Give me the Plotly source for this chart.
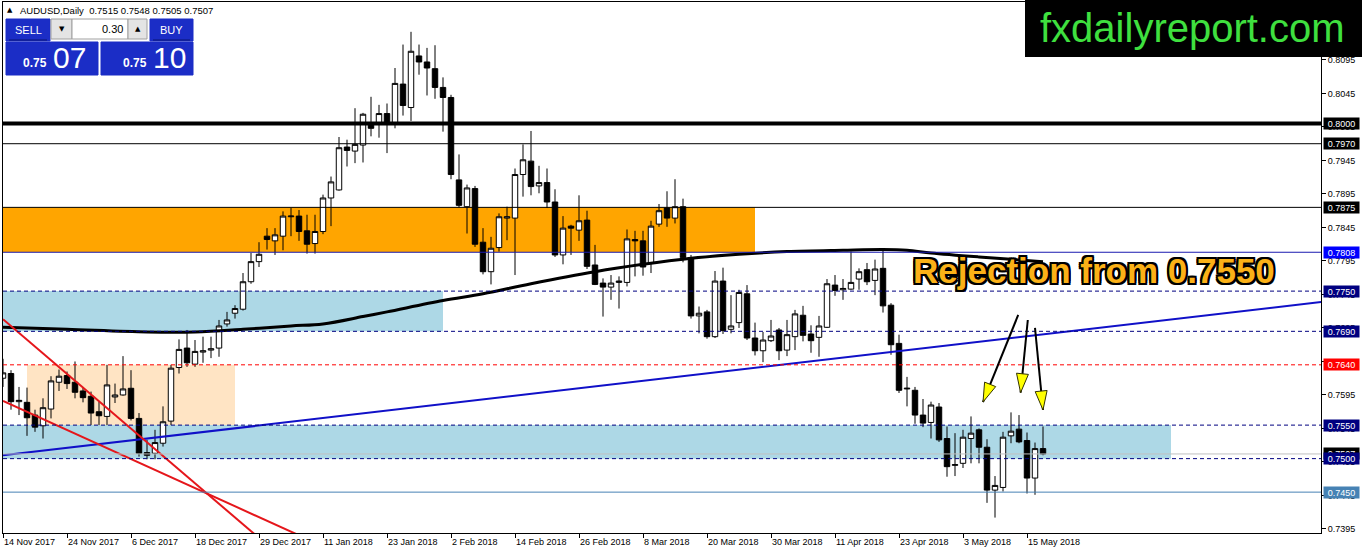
import pandas as pd
import plotly.graph_objects as go

# ---- data ---------------------------------------------------------------
START_DATE = "2017-11-14"
END_DATE = "2018-05-17"
HOLIDAYS = ["2017-12-25", "2018-01-01"]  # no bars on these days

OPEN = [
    0.7620, 0.7627, 0.7585, 0.7584, 0.7565, 0.7549, 0.7574, 0.7614, 0.7624, 0.7614,
    0.7601, 0.7593, 0.7570, 0.7563, 0.7592, 0.7595, 0.7605, 0.7560, 0.7509, 0.7508,
    0.7523, 0.7556, 0.7636, 0.7665, 0.7641, 0.7659, 0.7662, 0.7665, 0.7701, 0.7717,
    0.7723, 0.7764, 0.7794, 0.7832, 0.7825, 0.7832, 0.7861, 0.7862, 0.7840, 0.7821,
    0.7839, 0.7889, 0.7901, 0.7965, 0.7959, 0.7968, 0.8000, 0.8000, 0.8015, 0.8000,
    0.8059, 0.8024, 0.8101, 0.8092, 0.8082, 0.8054, 0.8039, 0.7916, 0.7876, 0.7903,
    0.7823, 0.7779, 0.7815, 0.7859, 0.7859, 0.7924, 0.7944, 0.7907, 0.7912, 0.7883,
    0.7804, 0.7847, 0.7841, 0.7856, 0.7789, 0.7762, 0.7756, 0.7763, 0.7763, 0.7827,
    0.7825, 0.7792, 0.7850, 0.7874, 0.7859, 0.7876, 0.7800, 0.7713, 0.7719, 0.7682,
    0.7765, 0.7693, 0.7703, 0.7746, 0.7680, 0.7661, 0.7676, 0.7692, 0.7662, 0.7682,
    0.7714, 0.7686, 0.7681, 0.7696, 0.7759, 0.7752, 0.7753, 0.7768, 0.7782, 0.7766,
    0.7784, 0.7729, 0.7672, 0.7604, 0.7602, 0.7565, 0.7554, 0.7577, 0.7530, 0.7490,
    0.7493, 0.7530, 0.7543, 0.7517, 0.7453, 0.7457, 0.7534, 0.7544, 0.7527, 0.7471,
    0.7515,
]
HIGH = [
    0.7649, 0.7632, 0.7607, 0.7606, 0.7573, 0.7590, 0.7623, 0.7633, 0.7630, 0.7645,
    0.7607, 0.7600, 0.7585, 0.7640, 0.7612, 0.7653, 0.7632, 0.7568, 0.7528, 0.7543,
    0.7578, 0.7640, 0.7678, 0.7692, 0.7677, 0.7682, 0.7682, 0.7707, 0.7719, 0.7729,
    0.7777, 0.7807, 0.7823, 0.7844, 0.7844, 0.7869, 0.7874, 0.7871, 0.7864, 0.7864,
    0.7894, 0.7921, 0.7980, 0.7976, 0.8023, 0.8016, 0.8040, 0.8028, 0.8030, 0.8083,
    0.8118, 0.8137, 0.8118, 0.8113, 0.8117, 0.8069, 0.8043, 0.7954, 0.7909, 0.7907,
    0.7844, 0.7831, 0.7866, 0.7876, 0.7933, 0.7969, 0.7989, 0.7937, 0.7933, 0.7902,
    0.7862, 0.7849, 0.7893, 0.7870, 0.7819, 0.7769, 0.7774, 0.7772, 0.7842, 0.7840,
    0.7840, 0.7855, 0.7880, 0.7899, 0.7917, 0.7888, 0.7804, 0.7727, 0.7722, 0.7780,
    0.7785, 0.7744, 0.7752, 0.7759, 0.7703, 0.7689, 0.7707, 0.7695, 0.7707, 0.7722,
    0.7728, 0.7699, 0.7713, 0.7768, 0.7774, 0.7768, 0.7809, 0.7784, 0.7792, 0.7797,
    0.7811, 0.7732, 0.7685, 0.7622, 0.7607, 0.7589, 0.7585, 0.7583, 0.7548, 0.7538,
    0.7543, 0.7563, 0.7545, 0.7529, 0.7474, 0.7540, 0.7569, 0.7565, 0.7539, 0.7524,
    0.7548,
]
LOW = [
    0.7607, 0.7573, 0.7565, 0.7534, 0.7540, 0.7530, 0.7560, 0.7601, 0.7604, 0.7590,
    0.7584, 0.7550, 0.7550, 0.7550, 0.7583, 0.7594, 0.7557, 0.7503, 0.7499, 0.7499,
    0.7518, 0.7550, 0.7627, 0.7637, 0.7637, 0.7643, 0.7650, 0.7652, 0.7697, 0.7709,
    0.7721, 0.7761, 0.7786, 0.7812, 0.7804, 0.7811, 0.7832, 0.7825, 0.7806, 0.7806,
    0.7835, 0.7847, 0.7900, 0.7936, 0.7941, 0.7942, 0.7981, 0.7979, 0.7956, 0.7993,
    0.8012, 0.8004, 0.8073, 0.8042, 0.8037, 0.7988, 0.7917, 0.7875, 0.7836, 0.7816,
    0.7775, 0.7760, 0.7809, 0.7826, 0.7774, 0.7891, 0.7893, 0.7896, 0.7874, 0.7801,
    0.7790, 0.7804, 0.7825, 0.7783, 0.7759, 0.7712, 0.7737, 0.7724, 0.7757, 0.7772,
    0.7773, 0.7777, 0.7846, 0.7846, 0.7851, 0.7793, 0.7709, 0.7687, 0.7679, 0.7680,
    0.7686, 0.7687, 0.7695, 0.7677, 0.7654, 0.7644, 0.7674, 0.7647, 0.7653, 0.7662,
    0.7675, 0.7658, 0.7652, 0.7695, 0.7743, 0.7737, 0.7752, 0.7752, 0.7759, 0.7744,
    0.7718, 0.7655, 0.7598, 0.7578, 0.7552, 0.7547, 0.7530, 0.7525, 0.7473, 0.7474,
    0.7486, 0.7493, 0.7493, 0.7434, 0.7412, 0.7451, 0.7523, 0.7523, 0.7448, 0.7446,
    0.7505,
]
CLOSE = [
    0.7628, 0.7585, 0.7587, 0.7561, 0.7547, 0.7576, 0.7616, 0.7623, 0.7612, 0.7599,
    0.7591, 0.7568, 0.7564, 0.7610, 0.7595, 0.7604, 0.7560, 0.7508, 0.7505, 0.7524,
    0.7555, 0.7635, 0.7663, 0.7643, 0.7660, 0.7661, 0.7664, 0.7698, 0.7707, 0.7724,
    0.7764, 0.7794, 0.7805, 0.7827, 0.7834, 0.7862, 0.7862, 0.7839, 0.7820, 0.7839,
    0.7889, 0.7913, 0.7964, 0.7960, 0.7969, 0.8014, 0.7993, 0.8015, 0.8000, 0.8060,
    0.8027, 0.8108, 0.8092, 0.8083, 0.8054, 0.8039, 0.7924, 0.7878, 0.7904, 0.7820,
    0.7779, 0.7814, 0.7861, 0.7861, 0.7924, 0.7946, 0.7906, 0.7912, 0.7883, 0.7804,
    0.7844, 0.7844, 0.7855, 0.7787, 0.7760, 0.7756, 0.7762, 0.7765, 0.7828, 0.7825,
    0.7786, 0.7847, 0.7870, 0.7859, 0.7876, 0.7800, 0.7713, 0.7717, 0.7682, 0.7765,
    0.7691, 0.7698, 0.7748, 0.7680, 0.7661, 0.7677, 0.7683, 0.7661, 0.7685, 0.7716,
    0.7684, 0.7676, 0.7698, 0.7761, 0.7751, 0.7754, 0.7763, 0.7779, 0.7764, 0.7783,
    0.7728, 0.7670, 0.7602, 0.7605, 0.7565, 0.7553, 0.7580, 0.7528, 0.7488, 0.7491,
    0.7532, 0.7538, 0.7517, 0.7453, 0.7460, 0.7532, 0.7541, 0.7525, 0.7471, 0.7515,
    0.7507,
]

# slow moving average, read at a few bars
MA_BARS = [0, 8, 18, 24, 30, 36, 40, 45, 48, 55, 60, 66, 74, 80, 86, 92, 98, 105, 110, 113, 116, 122, 130]
MA_VALUES = [0.7696, 0.7693, 0.7689, 0.7689, 0.7693, 0.7698, 0.7701, 0.7712, 0.7719, 0.7736, 0.7746,
             0.7761, 0.7779, 0.7790, 0.7799, 0.7805, 0.7809, 0.7811, 0.7812, 0.7811, 0.7807, 0.7801, 0.7794]

PRICE_TICKS = [0.7395, 0.7445, 0.7495, 0.7545, 0.7595, 0.7645, 0.7695, 0.7745,
               0.7795, 0.7845, 0.7895, 0.7945, 0.7995, 0.8045, 0.8095]

# horizontal levels drawn on the chart
LEVEL_PRICES = [0.8000, 0.7970, 0.7875, 0.7808, 0.7750, 0.7690, 0.7640, 0.7550, 0.7507, 0.7500, 0.7450]
LEVEL_COLORS = ["black", "black", "black", "#1A1AB0", "#000080", "#000080", "#FF0000",
                "#000080", "#C0C0C0", "#000080", "#4682B4"]
LEVEL_WIDTHS = [4, 1, 1, 1, 1, 1, 1, 1, 1, 1, 1]
LEVEL_DASHES = ["solid", "solid", "solid", "solid", "4px,3px", "4px,3px", "4px,3px",
                "4px,3px", "solid", "4px,3px", "solid"]
LABEL_COLORS = ["black", "black", "black", "#0000FF", "#000080", "#000080", "#FF0000",
                "#000080", "black", "#000080", "#4682B4"]

# zones (price low/high, first/last bar)
ZONE_LOW = [0.7808, 0.7690, 0.7500, 0.7550]
ZONE_HIGH = [0.7875, 0.7750, 0.7550, 0.7640]
ZONE_START = [-5, -5, -5, 3]
ZONE_END = [94, 55, 146, 29]
ZONE_COLORS = ["#FFA500", "#ADD8E6", "#ADD8E6", "#FFE4C4"]

# trend lines: (bar, price) end points
BLUE_LINE = [(0, 0.7505), (165, 0.7734)]
RED_STEEP = [(0, 0.7708), (40, 0.7300)]
RED_FLAT = [(0, 0.7586), (60, 0.7261)]

# annotation arrows: tail -> tip as (bar, price)
ARROWS = [
    ((126.9, 0.77144), (122.5, 0.75845)),
    ((128.1, 0.77069), (127.2, 0.75984)),
    ((129.0, 0.76950), (130.0, 0.75726)),
]

# ---- geometry -----------------------------------------------------------
W, H = 1362, 554
M_L, M_R, M_T, M_B = 3, 41, 2, 21
X_RANGE = [0, 164.75]
Y_RANGE = [0.7389, 0.81815]
PLOT_W = W - M_L - M_R
PLOT_H = H - M_T - M_B
PX_PER_BAR = PLOT_W / (X_RANGE[1] - X_RANGE[0])
PX_PER_PRICE = PLOT_H / (Y_RANGE[1] - Y_RANGE[0])


def px(x):
    return (x - M_L) / PLOT_W


def py(y):
    return (H - M_B - y) / PLOT_H


days = pd.bdate_range(START_DATE, END_DATE)
days = days[~days.isin(pd.to_datetime(HOLIDAYS))]
bars = list(range(len(days)))
date_labels = [f"{d.day} {d.strftime('%b %Y')}" for d in days]

fig = go.Figure()

fig.add_candlestick(
    x=bars, open=OPEN, high=HIGH, low=LOW, close=CLOSE,
    increasing=dict(line=dict(color="black", width=1), fillcolor="white"),
    decreasing=dict(line=dict(color="black", width=1), fillcolor="black"),
    whiskerwidth=0, hoverinfo="skip", showlegend=False,
)

fig.add_scatter(x=MA_BARS, y=MA_VALUES, mode="lines", line=dict(color="black", width=3, shape="spline"),
                hoverinfo="skip", showlegend=False)

for pts, color in [(BLUE_LINE, "#1010C8"), (RED_STEEP, "#E5161B"), (RED_FLAT, "#E5161B")]:
    fig.add_scatter(x=[p[0] for p in pts], y=[p[1] for p in pts], mode="lines",
                    line=dict(color=color, width=2), hoverinfo="skip", showlegend=False)

shapes = []
for lo, hi, x0, x1, c in zip(ZONE_LOW, ZONE_HIGH, ZONE_START, ZONE_END, ZONE_COLORS):
    shapes.append(dict(type="rect", xref="x", yref="y", x0=x0, x1=x1, y0=lo, y1=hi,
                       fillcolor=c, line=dict(width=0), layer="below"))

for p, c, w, d in zip(LEVEL_PRICES, LEVEL_COLORS, LEVEL_WIDTHS, LEVEL_DASHES):
    shapes.append(dict(type="line", xref="paper", yref="y", x0=0, x1=1, y0=p, y1=p,
                       line=dict(color=c, width=w, dash=d), layer="above"))

for tail, tip in ARROWS:
    shapes.append(dict(type="line", xref="x", yref="y", x0=tail[0], y0=tail[1], x1=tip[0], y1=tip[1],
                       line=dict(color="black", width=2)))
    dx = (tip[0] - tail[0]) * PX_PER_BAR
    dy = (tip[1] - tail[1]) * PX_PER_PRICE
    n = (dx * dx + dy * dy) ** 0.5
    ux, uy = dx / n, dy / n
    length, half = 19, 6
    bx, by = -ux * length, -uy * length
    qx, qy = -uy * half, ux * half
    path = f"M 0,0 L {bx + qx:.1f},{by + qy:.1f} L {bx - qx:.1f},{by - qy:.1f} Z"
    shapes.append(dict(type="path", xref="x", yref="y", xsizemode="pixel", ysizemode="pixel",
                       xanchor=tip[0], yanchor=tip[1], path=path,
                       fillcolor="#FFFF00", line=dict(color="#333300", width=1)))

# logo box top right
shapes.append(dict(type="rect", xref="paper", yref="paper", x0=px(1025), x1=px(1362), y0=py(57), y1=py(0),
                   fillcolor="black", line=dict(width=0)))

# trade panel top left
blue = "#1B2DC6"
for x0, x1, y0, y1, fill, line in [
    (6, 50, 19, 41, blue, blue),
    (51, 72, 19, 39, "#E4E4E4", "#A0A0A0"),
    (72, 128, 19, 39, "white", "#A0A0A0"),
    (128, 147, 19, 39, "#E4E4E4", "#A0A0A0"),
    (150, 193, 19, 41, blue, blue),
    (6, 98, 42, 75, blue, blue),
    (101, 193, 42, 75, blue, blue),
]:
    shapes.append(dict(type="rect", xref="paper", yref="paper", x0=px(x0), x1=px(x1), y0=py(y1), y1=py(y0),
                       fillcolor=fill, line=dict(color=line, width=1)))
shapes.append(dict(type="line", xref="paper", yref="paper", x0=px(9), x1=px(47), y0=py(40), y1=py(40),
                   line=dict(color="#0A1470", width=1)))
shapes.append(dict(type="line", xref="paper", yref="paper", x0=px(153), x1=px(190), y0=py(40), y1=py(40),
                   line=dict(color="#0A1470", width=1)))

annotations = []
label_font = dict(family="Liberation Sans, Arial", size=9, color="white")
for p, c in zip(LEVEL_PRICES, LABEL_COLORS):
    annotations.append(dict(xref="paper", yref="y", x=1, y=p, xanchor="left", yanchor="middle", xshift=2,
                            text=f"{p:.4f}", showarrow=False, bgcolor=c, font=label_font,
                            width=35, height=11, borderpad=0, align="center"))

annotations.append(dict(xref="x", yref="y", x=136.4, y=0.7781, text="Rejection from 0.7550",
                        showarrow=False, xanchor="center", yanchor="middle",
                        font=dict(family="Liberation Sans, Arial", size=35, weight=700, color="#FBB117",
                                  shadow="2px 2px 0 #000, -2px -2px 0 #000, 2px -2px 0 #000, -2px 2px 0 #000,"
                                         " 0 2px 0 #000, 2px 0 0 #000, 0 -2px 0 #000, -2px 0 0 #000")))

annotations.append(dict(xref="paper", yref="paper", x=px(1192), y=py(28), text="fxdailyreport.com",
                        showarrow=False, xanchor="center", yanchor="middle",
                        font=dict(family="Liberation Sans, Arial", size=40, color="#3FE03F")))

small = dict(family="Liberation Sans, Arial", size=9.5, color="black")
annotations.append(dict(xref="paper", yref="paper", x=px(5), y=py(10), text="▲", showarrow=False,
                        xanchor="left", yanchor="middle", font=dict(family="DejaVu Sans", size=7, color="black")))
annotations.append(dict(xref="paper", yref="paper", x=px(18), y=py(10),
                        text="AUDUSD,Daily  0.7515 0.7548 0.7505 0.7507", showarrow=False,
                        xanchor="left", yanchor="middle", font=small))

white = dict(family="Liberation Sans, Arial", color="white")
for x, y, t, size, anchor in [
    (28, 30, "SELL", 11, "center"),
    (171, 30, "BUY", 11, "center"),
    (49, 63, "<b>0.75</b>", 12, "right"),
    (51, 58, "07", 30, "left"),
    (149, 63, "<b>0.75</b>", 12, "right"),
    (151, 58, "10", 30, "left"),
]:
    annotations.append(dict(xref="paper", yref="paper", x=px(x), y=py(y), text=t, showarrow=False,
                            xanchor=anchor, yanchor="middle", font=dict(white, size=size)))
annotations.append(dict(xref="paper", yref="paper", x=px(125), y=py(29), text="0.30", showarrow=False,
                        xanchor="right", yanchor="middle", font=dict(family="Liberation Sans, Arial", size=11,
                                                                     color="black")))
for x, t in [(61.5, "▼"), (137.5, "▲")]:
    annotations.append(dict(xref="paper", yref="paper", x=px(x), y=py(29), text=t, showarrow=False,
                            xanchor="center", yanchor="middle",
                            font=dict(family="DejaVu Sans", size=7, color="black")))

axis_font = dict(family="Liberation Sans, Arial", size=9, color="black")
fig.update_layout(
    width=W, height=H,
    margin=dict(l=M_L, r=M_R, t=M_T, b=M_B),
    paper_bgcolor="white", plot_bgcolor="white",
    boxgap=0.2, boxgroupgap=0.15,
    showlegend=False,
    shapes=shapes,
    annotations=annotations,
)
fig.update_xaxes(
    range=X_RANGE, rangeslider_visible=False,
    tickvals=bars[::8], ticktext=date_labels[::8],
    ticks="outside", ticklen=4, tickcolor="black", ticklabelposition="outside right",
    tickfont=axis_font, showgrid=False, zeroline=False,
    showline=True, linecolor="black", linewidth=1, mirror=True,
)
fig.update_yaxes(
    range=Y_RANGE, side="right",
    tickvals=PRICE_TICKS, ticktext=[f"{t:.4f}" for t in PRICE_TICKS],
    ticks="outside", ticklen=4, tickcolor="black",
    tickfont=axis_font, showgrid=False, zeroline=False,
    showline=True, linecolor="black", linewidth=1, mirror=True,
)

# the page body has a default 8px margin; drop it so the figure sits at the window corner
fig.write_html("out.html", config={"displayModeBar": False},
               post_script="document.body.style.margin='0';")
